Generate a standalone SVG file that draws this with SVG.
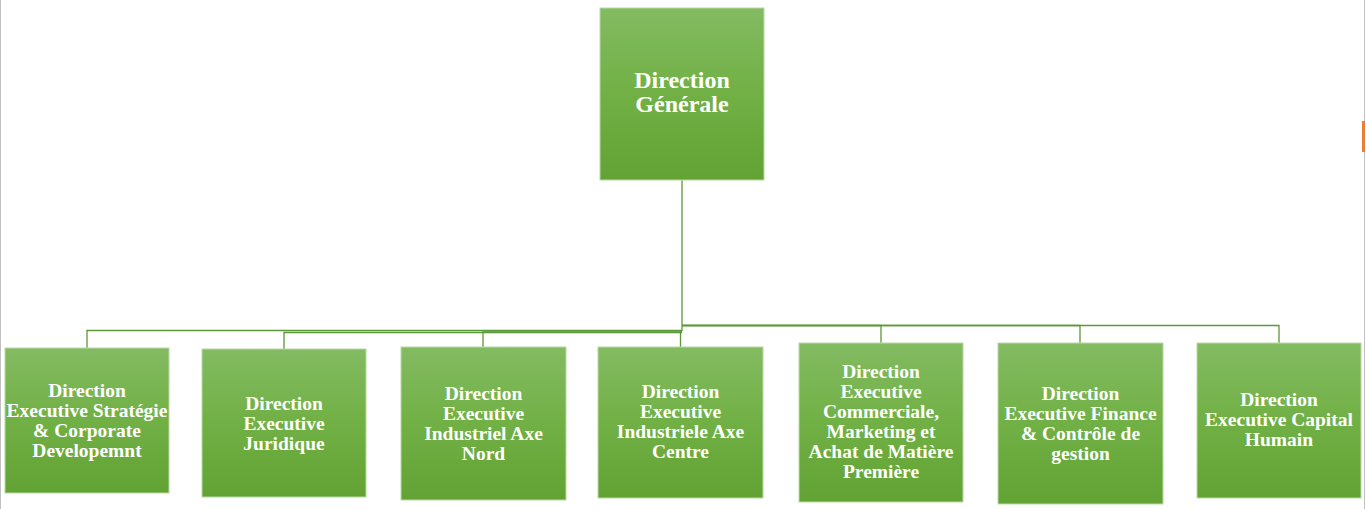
<svg xmlns="http://www.w3.org/2000/svg" width="1366" height="509" viewBox="0 0 1366 509">
<defs>
<linearGradient id="g" x1="0" y1="0" x2="0" y2="1">
<stop offset="0" stop-color="#83bb62"/>
<stop offset="0.5" stop-color="#71b045"/>
<stop offset="1" stop-color="#62a334"/>
</linearGradient>
<style>
.box{fill:url(#g);stroke:#b9d9a3;stroke-width:1}
.t{font-family:"Liberation Serif","Times New Roman",serif;font-weight:bold;fill:#ffffff;text-anchor:middle;font-size:19.5px}
.tt{font-size:24px}
.c{fill:none;stroke:#5b9838;stroke-width:1.3}
</style>
</defs>
<rect x="0" y="0" width="1366" height="509" fill="#ffffff"/>
<line x1="0.5" y1="0" x2="0.5" y2="509" stroke="#c0c0c0" stroke-width="1"/>
<line x1="1364.5" y1="0" x2="1364.5" y2="509" stroke="#c0c0c0" stroke-width="1"/>
<rect x="1362" y="121" width="3" height="31" fill="#ed7d31"/>
<g id="connectors">
<path class="c" d="M682,180 V331"/>
<path class="c" d="M682,330.5 H87 V348"/>
<path class="c" d="M682,332.5 H284 V349"/>
<path class="c" d="M682,332 H483 V347"/>
<path class="c" d="M682,331 H680.5 V347"/>
<path class="c" d="M682,325.5 H881 V343"/>
<path class="c" d="M682,325.5 H1080 V343"/>
<path class="c" d="M682,325.5 H1279 V343"/>
</g>
<g id="n0">
<rect class="box" x="600" y="8" width="164" height="172"/>
<text class="t tt" x="682" y="88">Direction</text>
<text class="t tt" x="682" y="112">Générale</text>
</g>
<g id="n1">
<rect class="box" x="5" y="348" width="164" height="145"/>
<text class="t" x="87" y="397">Direction</text>
<text class="t" x="87" y="417">Executive Stratégie</text>
<text class="t" x="87" y="437">&amp; Corporate</text>
<text class="t" x="87" y="457">Developemnt</text>
</g>
<g id="n2">
<rect class="box" x="202" y="349" width="164" height="148"/>
<text class="t" x="284" y="410">Direction</text>
<text class="t" x="284" y="430">Executive</text>
<text class="t" x="284" y="450">Juridique</text>
</g>
<g id="n3">
<rect class="box" x="401" y="347" width="165" height="153"/>
<text class="t" x="483.5" y="399.5">Direction</text>
<text class="t" x="483.5" y="419.5">Executive</text>
<text class="t" x="483.5" y="439.5">Industriel Axe</text>
<text class="t" x="483.5" y="459.5">Nord</text>
</g>
<g id="n4">
<rect class="box" x="598" y="347" width="165" height="151"/>
<text class="t" x="680.5" y="398">Direction</text>
<text class="t" x="680.5" y="418">Executive</text>
<text class="t" x="680.5" y="438">Industriele Axe</text>
<text class="t" x="680.5" y="458">Centre</text>
</g>
<g id="n5">
<rect class="box" x="799" y="343" width="164" height="159"/>
<text class="t" x="881" y="378">Direction</text>
<text class="t" x="881" y="398">Executive</text>
<text class="t" x="881" y="418">Commerciale,</text>
<text class="t" x="881" y="438">Marketing et</text>
<text class="t" x="881" y="458">Achat de Matière</text>
<text class="t" x="881" y="478">Première</text>
</g>
<g id="n6">
<rect class="box" x="998" y="343" width="165" height="161"/>
<text class="t" x="1080.5" y="399.5">Direction</text>
<text class="t" x="1080.5" y="419.5">Executive Finance</text>
<text class="t" x="1080.5" y="439.5">&amp; Contrôle de</text>
<text class="t" x="1080.5" y="459.5">gestion</text>
</g>
<g id="n7">
<rect class="box" x="1197" y="343" width="164" height="155"/>
<text class="t" x="1279" y="406">Direction</text>
<text class="t" x="1279" y="426">Executive Capital</text>
<text class="t" x="1279" y="446">Humain</text>
</g>
</svg>
